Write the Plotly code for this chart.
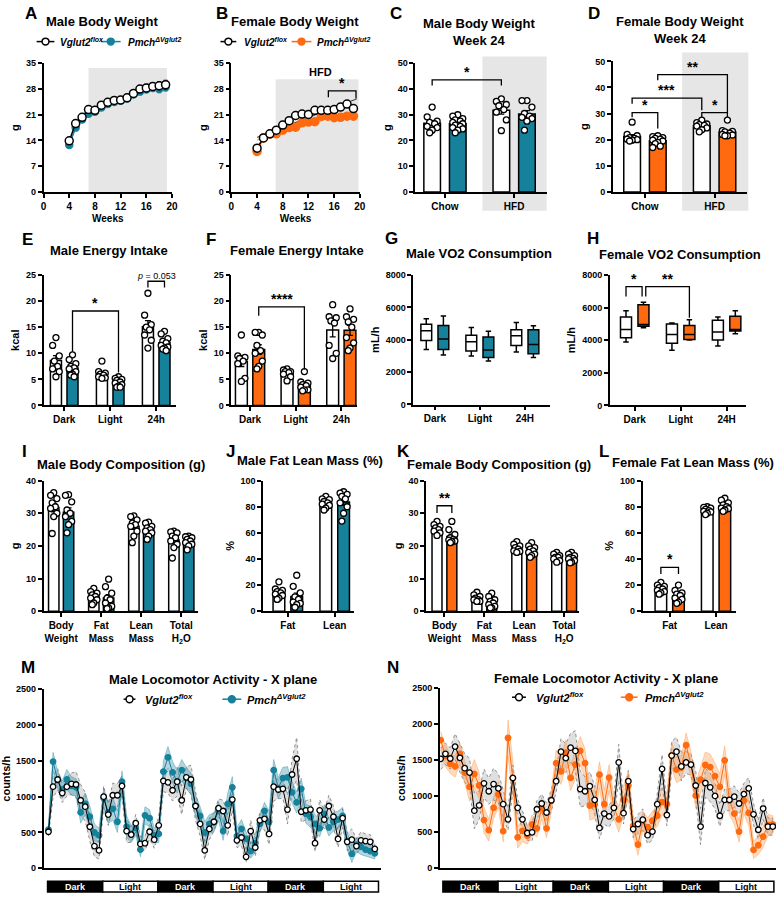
import numpy as np
import plotly.graph_objects as go

W, H = 782, 898
FONT = "Liberation Sans"
TEAL = "#16819b"
ORANGE = "#ff6a10"
SHADE = "#e6e6e6"

# ---------------- data ----------------
weeks = [4, 5, 6, 7, 8, 9, 10, 11, 12, 13, 14, 15, 16, 17, 18, 19]
a_flox = [13.9, 18.6, 20.3, 22.4, 22.2, 23.6, 24.4, 24.9, 25.0, 25.6, 26.8, 28.0, 28.3, 28.7, 28.9, 29.2]
a_flox_sem = [0.6, 0.7, 0.7, 0.6, 0.6, 0.6, 0.6, 0.7, 0.7, 0.7, 0.8, 0.9, 1.0, 1.0, 1.1, 1.2]
a_pmch = [12.8, 17.5, 19.7, 21.3, 21.8, 23.0, 23.9, 24.5, 24.9, 25.4, 26.5, 27.3, 27.9, 28.3, 28.0, 28.5]
a_pmch_sem = [0.5, 0.6, 0.6, 0.6, 0.6, 0.6, 0.6, 0.6, 0.6, 0.7, 0.7, 0.8, 0.8, 0.9, 1.0, 1.0]
b_flox = [11.9, 14.7, 15.8, 16.8, 18.2, 19.4, 20.8, 21.2, 21.1, 22.2, 22.2, 22.2, 22.4, 23.1, 23.9, 22.7]
b_flox_sem = [0.4, 0.4, 0.4, 0.4, 0.5, 0.5, 0.6, 0.6, 0.5, 0.5, 0.5, 0.5, 0.5, 0.6, 0.6, 0.6]
b_pmch = [11.0, 14.7, 15.7, 15.8, 16.8, 17.5, 17.6, 18.8, 19.0, 19.1, 20.6, 20.6, 20.2, 20.3, 20.6, 20.6]
b_pmch_sem = [0.3, 0.4, 0.4, 0.4, 0.4, 0.4, 0.5, 0.5, 0.5, 0.5, 0.5, 0.5, 0.5, 0.5, 0.5, 0.5]

diet_labels = ["Chow", "HFD"]
c_flox = [[33.0, 29.2, 27.5, 27.0, 26.5, 25.5, 25.0, 24.0, 23.0],
          [36.2, 35.2, 34.0, 33.5, 32.0, 31.0, 28.0, 23.8]]
c_pmch = [[30.0, 29.5, 28.5, 28.0, 27.5, 27.0, 26.5, 26.0, 26.0, 25.5, 25.0, 24.5, 24.0, 23.0],
          [35.5, 35.5, 33.0, 30.5, 29.5, 29.0, 28.5, 27.5, 24.0]]
d_flox = [[26.7, 22.0, 21.5, 20.8, 20.5, 20.2, 20.0, 19.8, 19.5],
          [27.5, 26.5, 26.0, 25.8, 25.5, 25.2, 24.5, 23.8, 23.0]]
d_pmch = [[21.5, 21.2, 20.8, 20.5, 20.2, 19.8, 19.5, 19.0, 18.5, 17.5, 17.0],
          [27.5, 23.5, 23.2, 23.0, 22.5, 22.0, 21.8, 21.5, 21.5]]

period_labels = ["Dark", "Light", "24h"]
e_flox = [[13.0, 11.5, 9.5, 8.5, 7.5, 7.0, 6.5, 5.5],
          [8.5, 6.5, 6.2, 6.0, 5.8, 5.5, 5.3, 5.2],
          [21.5, 17.3, 15.5, 15.0, 14.5, 13.5, 12.5, 11.0]]
e_pmch = [[9.7, 8.8, 8.0, 7.5, 7.2, 7.0, 6.5, 6.0, 5.8, 5.5],
          [5.5, 5.2, 5.0, 4.8, 4.5, 4.3, 4.0, 3.7, 3.5, 3.5],
          [14.2, 13.7, 12.8, 12.3, 12.0, 11.5, 11.2, 11.0, 10.8, 10.5]]
f_flox = [[13.5, 9.5, 9.2, 9.0, 8.5, 8.0, 5.2, 4.6],
          [7.0, 6.8, 6.5, 6.5, 6.3, 6.0, 5.5, 4.7],
          [19.3, 17.0, 16.8, 16.2, 15.8, 11.5, 10.0, 9.0]]
f_pmch = [[14.0, 14.0, 13.5, 11.5, 10.5, 10.0, 8.5, 7.5, 7.0],
          [6.5, 4.5, 4.3, 4.0, 3.8, 3.5, 3.0, 3.0, 2.8],
          [18.5, 17.0, 16.5, 16.0, 15.0, 13.0, 12.0, 11.0, 10.5]]

vo2_labels = ["Dark", "Light", "24H"]
# [lower whisker, q1, median, q3, upper whisker]
g_flox = [[3400, 3950, 4560, 4960, 5290], [3000, 3300, 3870, 4270, 4760], [3240, 3650, 4250, 4620, 5060]]
g_pmch = [[3060, 3400, 4050, 4880, 5470], [2690, 2900, 3360, 4170, 4520], [2900, 3140, 3710, 4620, 4860]]
h_flox = [[3890, 4150, 4660, 5430, 5810], [3380, 3810, 4350, 5000, 5060], [3650, 4010, 4500, 5230, 5430]]
h_pmch = [[4760, 4860, 4960, 6180, 6320], [4010, 4050, 4350, 4900, 5250], [4390, 4560, 4660, 5470, 5810]]

comp_labels = ["Body<br>Weight", "Fat<br>Mass", "Lean<br>Mass", "Total<br>H<sub>2</sub>O"]
i_flox = [[36.3, 35.5, 34.5, 33.2, 32.0, 31.5, 30.0, 29.0, 23.8],
          [7.0, 6.0, 5.5, 5.0, 4.5, 4.0, 3.5, 2.5, 2.0],
          [29.2, 29.0, 28.0, 27.0, 26.5, 26.0, 24.5, 23.0, 21.0],
          [24.5, 24.3, 24.0, 23.0, 22.5, 21.5, 20.5, 19.5, 16.3]]
i_pmch = [[35.7, 35.5, 33.5, 31.0, 30.0, 29.0, 27.5, 26.5, 24.0],
          [9.8, 7.5, 5.5, 4.0, 3.5, 2.5, 1.5, 1.0, 0.8],
          [27.3, 27.0, 26.0, 25.5, 25.0, 24.5, 24.0, 23.0, 22.0],
          [23.0, 22.8, 22.5, 22.0, 21.5, 21.0, 20.5, 20.0, 18.8]]
pct_labels = ["Fat", "Lean"]
j_flox = [[22.5, 17.0, 16.0, 15.0, 14.0, 13.0, 12.0, 10.0, 9.0],
          [88.0, 86.0, 85.5, 84.0, 83.0, 82.0, 81.0, 79.0, 77.5]]
j_pmch = [[27.5, 19.0, 14.0, 11.0, 9.0, 7.0, 6.0, 5.0, 3.0],
          [91.5, 90.5, 89.5, 88.0, 86.0, 83.0, 80.0, 75.0, 69.0]]
k_flox = [[27.5, 26.5, 26.0, 25.5, 25.0, 24.5, 24.0, 23.2],
          [5.8, 5.0, 4.5, 4.0, 3.5, 3.5, 3.0, 3.0],
          [21.3, 20.5, 20.0, 19.5, 19.0, 18.5, 18.3, 18.0],
          [18.0, 17.5, 17.0, 16.5, 16.5, 16.0, 15.5, 15.0]]
k_pmch = [[27.5, 25.0, 23.5, 22.5, 22.0, 21.8, 21.5, 21.3, 21.0],
          [5.5, 4.5, 3.5, 3.0, 2.5, 2.0, 1.5, 1.0, 1.0],
          [21.0, 20.0, 19.5, 19.0, 18.5, 18.0, 17.5, 17.0, 16.5],
          [18.0, 17.5, 17.0, 16.5, 16.2, 16.0, 15.5, 15.0, 14.8]]
l_flox = [[22, 20, 19, 18, 17, 16, 15, 14, 13],
          [80, 79.5, 79, 78, 77, 76.5, 76, 75, 74]]
l_pmch = [[20, 16, 14, 13, 12, 10, 9, 7, 6],
          [86.5, 85, 83, 81.5, 80, 79, 78.5, 77.5, 76.5]]

m_hours = list(range(72))
m_flox = [510, 1140, 1240, 1050, 1140, 1180, 1170, 950, 860, 580, 310, 250,
          1000, 750, 1020, 1020, 1150, 520, 470, 630, 340, 350, 510, 400,
          600, 1220, 1200, 1090, 1210, 950, 1270, 1240, 870, 620, 250, 550,
          650, 840, 800, 600, 960, 390, 430, 160, 520, 290, 670, 690,
          480, 1140, 1100, 1110, 820, 1310, 1530, 790, 810, 820, 350, 810,
          680, 870, 720, 410, 700, 370, 400, 310, 390, 380, 370, 270]
m_flox_sem = [60, 150, 150, 130, 130, 150, 180, 220, 200, 200, 150, 120,
              150, 150, 170, 160, 140, 160, 110, 120, 100, 100, 100, 120,
              130, 150, 150, 150, 200, 200, 150, 200, 200, 170, 130, 150,
              130, 130, 150, 150, 150, 100, 120, 80, 150, 120, 130, 150,
              150, 200, 130, 130, 200, 220, 300, 150, 130, 150, 120, 150,
              130, 150, 150, 120, 130, 120, 150, 100, 120, 100, 100, 80]
m_pmch = [540, 1490, 1230, 1100, 1240, 1150, 1130, 780, 900, 720, 500, 460,
          980, 780, 830, 650, 1210, 580, 480, 560, 260, 740, 700, 460,
          480, 1350, 1550, 1340, 1210, 1370, 1260, 1180, 870, 730, 500, 620,
          640, 800, 520, 900, 1130, 450, 550, 410, 240, 350, 620, 800,
          650, 1370, 1120, 1260, 1270, 1060, 920, 1110, 760, 720, 620, 560,
          760, 570, 650, 680, 730, 380, 200, 330, 300, 260, 240, 210]
m_pmch_sem = [60, 130, 120, 120, 140, 130, 120, 150, 150, 150, 120, 100,
              130, 150, 160, 150, 150, 150, 120, 100, 100, 120, 120, 100,
              120, 150, 150, 150, 160, 150, 150, 150, 150, 130, 150, 130,
              130, 130, 130, 150, 150, 120, 130, 100, 100, 130, 120, 120,
              150, 150, 150, 150, 150, 150, 150, 150, 130, 150, 130, 120,
              130, 120, 130, 120, 120, 120, 120, 100, 110, 100, 90, 80]

n_hours = list(range(70))
n_flox = [1520, 1590, 1525, 1690, 1535, 1390, 1330, 800, 875, 1180, 1070, 1170,
          1110, 890, 680, 1255, 840, 680, 490, 500, 820, 900, 775, 945,
          1210, 1620, 1530, 1675, 1630, 1100, 1070, 1140, 950, 560, 760, 720,
          840, 1470, 765, 1210, 545, 615, 675, 460, 510, 890, 1380, 740,
          1565, 1620, 1415, 1470, 1440, 1150, 580, 1185, 1125, 1005, 730, 950,
          950, 995, 900, 1030, 1110, 750, 535, 830, 580, 580]
n_flox_sem = [150, 150, 150, 180, 200, 200, 200, 250, 200, 200, 180, 220,
              200, 200, 150, 180, 120, 120, 100, 120, 120, 130, 130, 150,
              150, 180, 200, 200, 280, 250, 200, 200, 200, 150, 150, 150,
              150, 250, 150, 150, 120, 130, 150, 120, 120, 150, 200, 150,
              200, 200, 200, 150, 150, 200, 250, 200, 200, 180, 150, 150,
              150, 150, 150, 150, 150, 150, 130, 150, 120, 120]
n_pmch = [1780, 1560, 1450, 1415, 1590, 1330, 1130, 1310, 1150, 670, 530, 840,
          1025, 515, 1810, 1250, 430, 520, 455, 610, 555, 835, 555, 940,
          1460, 1345, 1605, 1255, 1440, 1630, 1460, 870, 890, 1300, 890, 1260,
          840, 680, 950, 1150, 590, 330, 660, 570, 660, 730, 920, 890,
          1570, 1370, 1400, 1710, 1440, 1010, 1230, 1435, 1405, 1280, 1130, 1500,
          940, 760, 510, 940, 770, 255, 320, 440, 600, 610]
n_pmch_sem = [120, 150, 130, 150, 150, 150, 200, 200, 180, 180, 150, 150,
              180, 150, 250, 250, 150, 150, 120, 130, 120, 150, 130, 150,
              180, 180, 180, 180, 200, 200, 200, 200, 200, 180, 200, 180,
              150, 180, 200, 200, 150, 150, 130, 130, 130, 150, 180, 150,
              180, 180, 170, 170, 180, 180, 180, 180, 180, 180, 180, 200,
              200, 150, 150, 180, 180, 120, 130, 150, 150, 120]
cycle_labels = ["Dark", "Light", "Dark", "Light", "Dark", "Light"]

# ---------------- helpers ----------------
fig = go.Figure()
shapes, ann = [], []


def ax(i):
    return ("x" if i == 1 else f"x{i}"), ("y" if i == 1 else f"y{i}")


def lname(i):
    return ("xaxis" if i == 1 else f"xaxis{i}"), ("yaxis" if i == 1 else f"yaxis{i}")


def fnt(size, bold=True, italic=False, color="black"):
    return dict(family=FONT, size=size, color=color,
                weight="bold" if bold else "normal", style="italic" if italic else "normal")


def make_axes(i, x0, x1, ytop, ybot, xr, yr, ytv, ytitle, xtv=None, xtt=None,
              xtitle=None, xshow=True, xfont=10):
    xn, yn = lname(i)
    xa, ya = ax(i)
    common = dict(showline=True, linecolor="black", linewidth=1.5, ticks="outside",
                  ticklen=4, tickwidth=1.5, tickcolor="black", showgrid=False,
                  zeroline=False, fixedrange=True)
    xd = dict(common, domain=[x0 / W, x1 / W], anchor=ya, range=xr, tickfont=fnt(xfont))
    if xtv is not None:
        xd.update(tickmode="array", tickvals=xtv,
                  ticktext=xtt if xtt is not None else [str(v) for v in xtv])
    if not xshow:
        xd.update(ticks="", showticklabels=False)
    if xtitle:
        xd["title"] = dict(text=xtitle, font=fnt(10), standoff=4)
    yd = dict(common, domain=[1 - ybot / H, 1 - ytop / H], anchor=xa, range=yr,
              tickmode="array", tickvals=ytv, ticktext=[str(v) for v in ytv],
              tickfont=fnt(9))
    if ytitle:
        yd["title"] = dict(text=ytitle, font=fnt(11), standoff=4)
    fig.update_layout({xn: xd, yn: yd})


def text(x, y, s, size=12, bold=True, italic=False, color="black", xanchor="center",
         yanchor="middle", xref="paper", yref="paper", yshift=0):
    if xref == "paper":
        x = x / W
    if yref == "paper":
        y = 1 - y / H
    ann.append(dict(x=x, y=y, xref=xref, yref=yref, text=s, showarrow=False,
                    xanchor=xanchor, yanchor=yanchor, yshift=yshift,
                    font=fnt(size, bold, italic, color)))


def bracket(i, x0, x1, y, d0, d1, label, size=14):
    xa, ya = ax(i)
    shapes.append(dict(type="path", xref=xa, yref=ya,
                       path=f"M {x0},{d0} L {x0},{y} L {x1},{y} L {x1},{d1}",
                       line=dict(color="black", width=1.3)))
    text((x0 + x1) / 2, y, label, size=size, xref=xa, yref=ya, yanchor="bottom", yshift=-2)


PATTERN = [0, -1, 1, -0.5, 0.5, -1, 1, 0, -0.5, 0.5, -1, 1, 0, -0.5]


def bar_group(i, pos, vals, fill, w):
    xa, ya = ax(i)
    v = np.array(vals, float)
    mean = v.mean()
    sem = v.std(ddof=1) / np.sqrt(len(v))
    fig.add_trace(go.Bar(x=[pos], y=[mean], width=w,
                         marker=dict(color=fill, line=dict(color="black", width=1.5)),
                         error_y=dict(type="data", array=[sem], color="black",
                                      thickness=1.3, width=3),
                         xaxis=xa, yaxis=ya, showlegend=False, hoverinfo="skip"))
    order = np.argsort(-v, kind="stable")
    xs = np.empty(len(v))
    for r, idx in enumerate(order):
        xs[idx] = pos + PATTERN[r % len(PATTERN)] * w * 0.3
    fig.add_trace(go.Scatter(x=xs, y=v, mode="markers", cliponaxis=False,
                             marker=dict(size=6, color="white",
                                         line=dict(color="black", width=1.3)),
                             xaxis=xa, yaxis=ya, showlegend=False, hoverinfo="skip"))


def bar_panel(i, flox, pmch, color, off, w):
    for g in range(len(flox)):
        bar_group(i, g - off, flox[g], "white", w)
        bar_group(i, g + off, pmch[g], color, w)


def box_panel(i, flox, pmch, color, off, w):
    xa, ya = ax(i)
    for g in range(len(flox)):
        for stats, pos, fill in ((flox[g], g - off, "white"), (pmch[g], g + off, color)):
            lo, q1, med, q3, hi = stats
            fig.add_trace(go.Box(x=[pos], q1=[q1], median=[med], q3=[q3],
                                 lowerfence=[lo], upperfence=[hi], width=w,
                                 fillcolor=fill, line=dict(color="black", width=1.5),
                                 whiskerwidth=0.5, boxpoints=False, orientation="v",
                                 xaxis=xa, yaxis=ya, showlegend=False, hoverinfo="skip"))


def ts(i, x, y, err, lcolor, mfill, size):
    xa, ya = ax(i)
    fig.add_trace(go.Scatter(x=x, y=y, mode="lines+markers",
                             line=dict(color=lcolor, width=1.5),
                             marker=dict(size=size, color=mfill, line=dict(color=lcolor, width=1.5)),
                             error_y=dict(type="data", array=err, color=lcolor, thickness=1, width=2),
                             xaxis=xa, yaxis=ya, showlegend=False, hoverinfo="skip"))


def band(i, x, y, sem, fill, lcolor, dash):
    xa, ya = ax(i)
    x = np.array(x, float)
    y = np.array(y, float)
    s = np.array(sem, float)
    fig.add_trace(go.Scatter(x=np.concatenate([x, x[::-1]]),
                             y=np.concatenate([y + s, (y - s)[::-1]]),
                             fill="toself", fillcolor=fill, mode="lines",
                             line=dict(color=lcolor, width=0.8, dash=dash),
                             xaxis=xa, yaxis=ya, showlegend=False, hoverinfo="skip"))


def loco_line(i, x, y, color, mfill):
    xa, ya = ax(i)
    fig.add_trace(go.Scatter(x=x, y=y, mode="lines+markers",
                             line=dict(color=color, width=1),
                             marker=dict(size=5.5, color=mfill, line=dict(color=color, width=1.3)),
                             xaxis=xa, yaxis=ya, showlegend=False, hoverinfo="skip"))


def legend_item(xl0, xl1, yc, color, fill, label, tx, size):
    shapes.append(dict(type="line", xref="paper", yref="paper", x0=xl0 / W, x1=xl1 / W,
                       y0=1 - yc / H, y1=1 - yc / H, line=dict(color=color, width=1.5)))
    r = 3.5
    cx = (xl0 + xl1) / 2
    shapes.append(dict(type="circle", xref="paper", yref="paper", x0=(cx - r) / W,
                       x1=(cx + r) / W, y0=1 - (yc + r) / H, y1=1 - (yc - r) / H,
                       fillcolor=fill, line=dict(color=color, width=1.5)))
    text(tx, yc, label, size=size, italic=True, xanchor="left")


FLOX = "Vglut2<sup>flox</sup>"
PMCH = "Pmch<sup>\u0394Vglut2</sup>"

# ---------------- A ----------------
make_axes(1, 41, 171, 59, 189, [0, 20], [0, 35], [0, 7, 14, 21, 28, 35], "g",
          xtv=[0, 4, 8, 12, 16, 20], xtitle="Weeks")
shapes.append(dict(type="rect", xref="x", yref="y", x0=7, x1=19.2, y0=0, y1=33.7,
                   fillcolor=SHADE, line=dict(width=0), layer="below"))
text(13, 35.3, "HFD", size=11, xref="x", yref="y", yanchor="bottom")
ts(1, weeks, a_pmch, a_pmch_sem, TEAL, TEAL, 7)
ts(1, weeks, a_flox, a_flox_sem, "black", "white", 8)

# ---------------- B ----------------
make_axes(2, 231, 361, 59, 189, [0, 20], [0, 35], [0, 7, 14, 21, 28, 35], "g",
          xtv=[0, 4, 8, 12, 16, 20], xtitle="Weeks")
shapes.append(dict(type="rect", xref="x2", yref="y2", x0=6.9, x1=19.8, y0=0, y1=30.7,
                   fillcolor=SHADE, line=dict(width=0), layer="below"))
text(13.8, 32.6, "HFD", size=11, xref="x2", yref="y2")
fit_x = np.array([4.0, 19.5])
for series, col in ((b_flox, "black"), (b_pmch, ORANGE)):
    p = np.polyfit(weeks, series, 1)
    fig.add_trace(go.Scatter(x=fit_x, y=np.polyval(p, fit_x), mode="lines",
                             line=dict(color=col, width=0.8), xaxis="x2", yaxis="y2",
                             showlegend=False, hoverinfo="skip"))
ts(2, weeks, b_pmch, b_pmch_sem, ORANGE, ORANGE, 8)
ts(2, weeks, b_flox, b_flox_sem, "black", "white", 8)
bracket(2, 15.1, 19.4, 27.5, 25.8, 25.4, "*")

# ---------------- C ----------------
make_axes(3, 417, 550, 59, 189, [-0.43, 1.47], [0, 50], [0, 10, 20, 30, 40, 50], "g",
          xtv=[0, 1], xtt=diet_labels, xfont=10)
shapes.append(dict(type="rect", xref="paper", yref="paper", x0=485 / W, x1=550 / W,
                   y0=1 - 208 / H, y1=1 - 52 / H, fillcolor=SHADE, line=dict(width=0),
                   layer="below"))
bar_panel(3, c_flox, c_pmch, TEAL, 0.185, 0.24)
bracket(3, -0.185, 0.815, 43.6, 41.4, 41.4, "*")

# ---------------- D ----------------
make_axes(4, 617, 753, 57, 189, [-0.46, 1.47], [0, 50], [0, 10, 20, 30, 40, 50], "g",
          xtv=[0, 1], xtt=diet_labels, xfont=10)
shapes.append(dict(type="rect", xref="paper", yref="paper", x0=687 / W, x1=754 / W,
                   y0=1 - 208 / H, y1=1 - 48 / H, fillcolor=SHADE, line=dict(width=0),
                   layer="below"))
bar_panel(4, d_flox, d_pmch, ORANGE, 0.184, 0.24)
bracket(4, -0.184, 0.184, 30.4, 28.6, 24.3, "*")
bracket(4, -0.184, 0.816, 35.9, 33.8, 31.3, "***")
bracket(4, 0.184, 1.184, 44.9, 42.8, 30.4, "**")
bracket(4, 0.816, 1.184, 30.4, 28.6, 28.6, "*")

# ---------------- E ----------------
make_axes(5, 41, 175, 273, 405, [-0.45, 2.43], [0, 25], [0, 5, 10, 15, 20, 25], "kcal",
          xtv=[0, 1, 2], xtt=period_labels)
bar_panel(5, e_flox, e_pmch, TEAL, 0.18, 0.24)
bracket(5, 0.18, 1.18, 18.1, 10.3, 6.3, "*")
bracket(5, 1.82, 2.18, 23.8, 22.6, 22.6, "<i>p</i> = 0.053", size=9)
ann[-1]["font"] = fnt(9, bold=False)

# ---------------- F ----------------
make_axes(6, 231, 358, 273, 405, [-0.41, 2.34], [0, 25], [0, 5, 10, 15, 20, 25], "kcal",
          xtv=[0, 1, 2], xtt=period_labels)
bar_panel(6, f_flox, f_pmch, ORANGE, 0.19, 0.26)
bracket(6, 0.19, 1.19, 18.9, 17.2, 6.9, "****")

# ---------------- G ----------------
make_axes(7, 415, 553, 273, 404, [-0.48, 2.55], [0, 8000], [0, 2000, 4000, 6000, 8000],
          "mL/h", xtv=[0, 1, 2], xtt=vo2_labels)
box_panel(7, g_flox, g_pmch, TEAL, 0.19, 0.24)

# ---------------- H ----------------
make_axes(8, 614, 752, 273, 405, [-0.54, 2.43], [0, 8000], [0, 2000, 4000, 6000, 8000],
          "mL/h", xtv=[0, 1, 2], xtt=vo2_labels)
box_panel(8, h_flox, h_pmch, ORANGE, 0.19, 0.24)
bracket(8, -0.19, 0.16, 7290, 6680, 6680, "*")
bracket(8, 0.24, 1.19, 7290, 6680, 5370, "**")

# ---------------- I ----------------
make_axes(9, 41, 197, 481, 613, [-0.44, 3.41], [0, 40], [0, 10, 20, 30, 40], "g",
          xtv=[0, 1, 2, 3], xtt=comp_labels)
bar_panel(9, i_flox, i_pmch, TEAL, 0.185, 0.26)

# ---------------- J ----------------
make_axes(10, 263, 355, 481, 613, [-0.53, 1.41], [0, 100], [0, 20, 40, 60, 80, 100], "%",
          xtv=[0, 1], xtt=pct_labels)
bar_panel(10, j_flox, j_pmch, TEAL, 0.19, 0.25)

# ---------------- K ----------------
make_axes(11, 428, 583, 481, 613, [-0.46, 3.38], [0, 40], [0, 10, 20, 30, 40], "g",
          xtv=[0, 1, 2, 3], xtt=comp_labels)
bar_panel(11, k_flox, k_pmch, ORANGE, 0.186, 0.25)
bracket(11, -0.186, 0.186, 32.3, 30.1, 30.1, "**")

# ---------------- L ----------------
make_axes(12, 647, 742, 481, 613, [-0.585, 1.44], [0, 100], [0, 20, 40, 60, 80, 100], "%",
          xtv=[0, 1], xtt=pct_labels)
bar_panel(12, l_flox, l_pmch, ORANGE, 0.19, 0.25)
bracket(12, -0.19, 0.19, 33.6, 28.5, 28.5, "*")

# ---------------- M ----------------
make_axes(13, 41, 382, 692, 873, [-1.075, 72.26], [0, 2500],
          [0, 500, 1000, 1500, 2000, 2500], "counts/h", xshow=False)
band(13, m_hours, m_flox, m_flox_sem, "rgba(185,185,185,0.45)", "#777777", "dot")
band(13, m_hours, m_pmch, m_pmch_sem, "rgba(22,129,155,0.33)", "rgba(22,129,155,0.45)", "solid")
loco_line(13, m_hours, m_pmch, TEAL, TEAL)
loco_line(13, m_hours, m_flox, "black", "white")

# ---------------- N ----------------
make_axes(14, 442, 782, 691, 873, [-0.15, 69.67], [0, 2500],
          [0, 500, 1000, 1500, 2000, 2500], "counts/h", xshow=False)
band(14, n_hours, n_flox, n_flox_sem, "rgba(185,185,185,0.45)", "#777777", "dot")
band(14, n_hours, n_pmch, n_pmch_sem, "rgba(255,140,50,0.32)", "rgba(255,140,50,0.45)", "solid")
loco_line(14, n_hours, n_pmch, ORANGE, ORANGE)
loco_line(14, n_hours, n_flox, "black", "white")

# light / dark strips
for i, start, step in ((13, -0.2, 12.0), (14, 0.47, 11.46)):
    xa, _ = ax(i)
    for k, lab in enumerate(cycle_labels):
        x0 = start + step * k
        x1 = x0 + step
        dark = lab == "Dark"
        shapes.append(dict(type="rect", xref=xa, yref="paper", x0=x0, x1=x1,
                           y0=1 - 897 / H, y1=1 - 886 / H,
                           fillcolor="black" if dark else "white",
                           line=dict(color="black", width=1.5)))
        text((x0 + x1) / 2, 891.5, lab, size=9, color="white" if dark else "black",
             xref=xa)

# ---------------- titles, letters, legends ----------------
titles = [(100, 17, "Male Body Weight"), (295, 17, "Female Body Weight"),
          (482, 27, "Male Body Weight<br>Week 24"), (685, 25, "Female Body Weight<br>Week 24"),
          (107, 248, "Male Energy Intake"), (297, 248, "Female Energy Intake"),
          (482, 251, "Male VO2 Consumption"), (685, 252, "Female VO2 Consumption"),
          (119, 465, "Male Body Composition (g)"), (311, 461, "Male Fat Lean Mass (%)"),
          (502, 465, "Female Body Composition (g)"), (698, 463, "Female Fat Lean Mass (%)"),
          (212, 682, "Male Locomotor Activity - X plane"),
          (610, 681, "Female Locomotor Activity - X plane")]
for x, y, s in titles:
    text(x, y, s, size=13)

letters = [(28, 9, "A"), (222, 9, "B"), (398, 9, "C"), (598, 9, "D"),
           (25, 237, "E"), (210, 237, "F"), (393, 236, "G"), (597, 236, "H"),
           (22, 452, "I"), (230, 452, "J"), (405, 452, "K"), (608, 452, "L"),
           (25, 670, "M"), (395, 670, "N")]
for x, y, s in letters:
    text(x, y, s, size=17)

legend_item(34, 52, 37, "black", "white", FLOX, 56, 10)
legend_item(99, 119, 37, TEAL, TEAL, PMCH, 124, 10)
legend_item(220, 236, 37, "black", "white", FLOX, 242, 10)
legend_item(292, 312, 37, ORANGE, ORANGE, PMCH, 316, 10)
legend_item(122, 134, 702, "black", "white", FLOX, 142, 11)
legend_item(222, 241, 702, TEAL, TEAL, PMCH, 245, 11)
legend_item(515, 529, 700, "black", "white", FLOX, 537, 11)
legend_item(625, 642, 700, ORANGE, ORANGE, PMCH, 647, 11)

fig.update_layout(width=W, height=H, margin=dict(l=0, r=0, t=0, b=0, pad=0),
                  paper_bgcolor="white", plot_bgcolor="rgba(0,0,0,0)",
                  barmode="overlay", boxmode="overlay", showlegend=False,
                  hovermode=False, shapes=shapes, annotations=ann,
                  font=dict(family=FONT, color="black"))
fig.write_html("out.html")
